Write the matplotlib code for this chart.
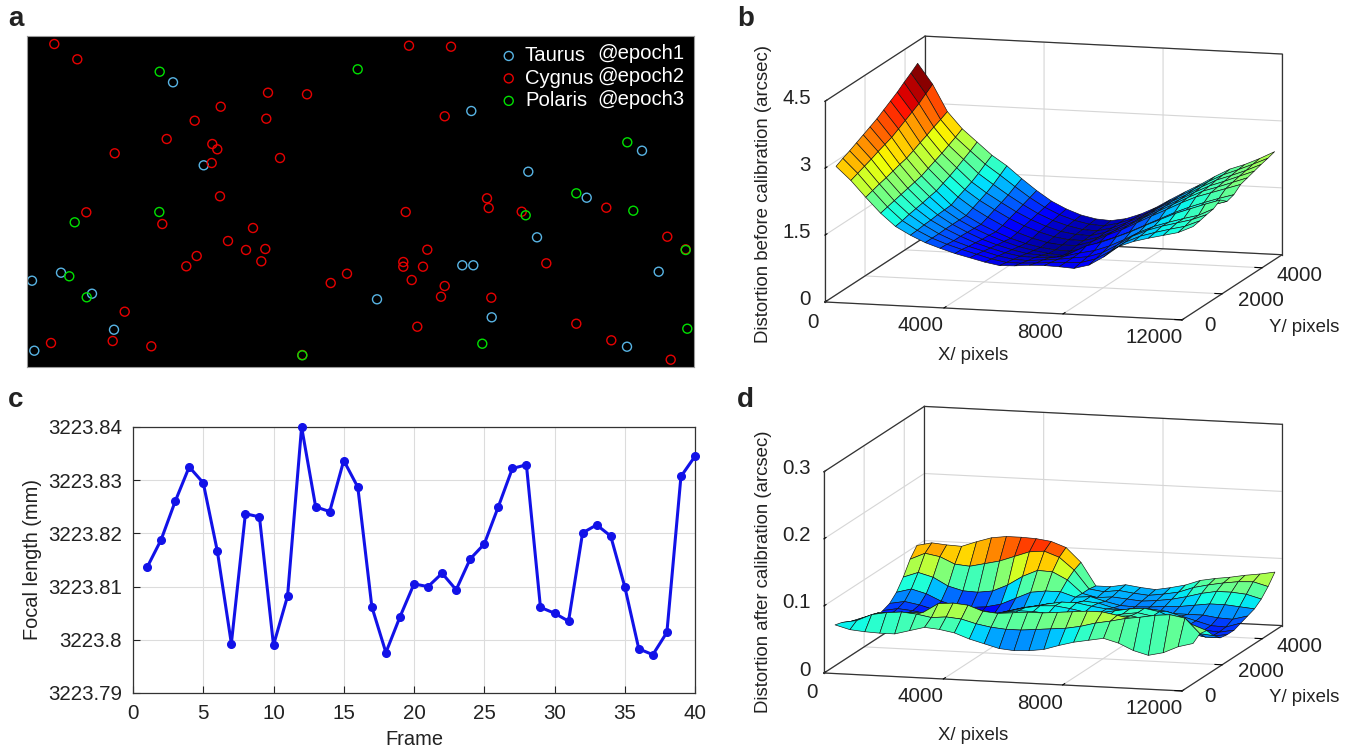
import numpy as np
import matplotlib
matplotlib.use('Agg')
import matplotlib.pyplot as plt
from mpl_toolkits.mplot3d import proj3d

plt.rcParams['font.family'] = ['Liberation Sans', 'DejaVu Sans']
plt.rcParams['grid.color'] = '#d6d6d6'
plt.rcParams['grid.linewidth'] = 0.8

W, H = 1364, 750
TXT = '#222222'

# panel a, star positions in image pixels
taurus_x = [173, 203.7, 32, 61, 92, 114, 34.3, 471.3, 642, 528.3, 586.7, 537, 462.3, 473.3, 658.7, 377, 491.7, 627]
taurus_y = [82.3, 165.3, 280.7, 272.7, 293.7, 329.7, 350.7, 111, 150.7, 171.7, 197.7, 237.3, 265.3, 265.3, 271.7, 299.3, 317.3, 346.7]
cygnus_x = [54.3, 77.3, 268, 307, 220.7, 194.7, 266.3, 166.7, 212.3, 217.3, 114.7, 280, 211.7, 220, 86.3, 162.3,
            253, 228, 246, 265.3, 196.7, 261.3, 186.3, 347, 330.7, 124.7, 112.7, 51, 151.3, 302.3, 409, 451, 444.7,
            487, 488.7, 405.7, 521.7, 606.3, 667.3, 685.7, 427.3, 403.3, 403.3, 423, 546.3, 411.7, 444.7, 441, 491.3,
            417.3, 576.3, 611.3, 670.7]
cygnus_y = [44, 59.3, 92.7, 94.3, 106.7, 120.7, 118.7, 139, 144, 149.3, 153.3, 158, 163, 196.3, 212.3, 224,
            228, 241, 250, 249, 256, 261.3, 266.3, 273.7, 283, 311.7, 341, 343, 346.3, 355, 45.7, 46.7, 116.3,
            198.3, 208, 212, 211.7, 207.7, 236.7, 249.3, 249.7, 262, 266.7, 266.7, 263.3, 280, 286, 296.7, 297.7,
            326.7, 323.7, 340.3, 359.7]
polaris_x = [159.7, 357.7, 74.7, 159.3, 69.3, 86.7, 302.3, 627.3, 576.3, 633.3, 525.7, 685.7, 687.3, 482.3]
polaris_y = [71.7, 69.3, 222.3, 212, 276.3, 297.3, 355.3, 142.3, 193.3, 210.7, 215.3, 250, 328.7, 343.7]
legend_names = ['Taurus', 'Cygnus', 'Polaris']
legend_epochs = ['@epoch1', '@epoch2', '@epoch3']

# panel c
frames = np.arange(1, 41)
focal = [3223.8136, 3223.8188, 3223.826, 3223.8325, 3223.8295, 3223.8167, 3223.7993, 3223.8237, 3223.8231, 3223.799,
         3223.8082, 3223.84, 3223.825, 3223.8241, 3223.8337, 3223.8287, 3223.8062, 3223.7976, 3223.8043, 3223.8105,
         3223.81, 3223.8125, 3223.8094, 3223.8152, 3223.818, 3223.825, 3223.8322, 3223.8329, 3223.8061, 3223.805,
         3223.8035, 3223.8201, 3223.8216, 3223.8195, 3223.81, 3223.7983, 3223.7972, 3223.8014, 3223.8307, 3223.8345]
focal_ticks = [3223.79, 3223.8, 3223.81, 3223.82, 3223.83, 3223.84]
focal_labels = ['3223.79', '3223.8', '3223.81', '3223.82', '3223.83', '3223.84']

# panels b, d: rows go from front (small Y) to back
grid_x = np.linspace(0, 12000, 25)
grid_y = np.linspace(550, 4630, 13)
before = [
    [2.88, 2.58, 2.22, 1.88, 1.60, 1.42, 1.27, 1.16, 1.06, .98, .90, .84, .85, .88, .89, .88, .86, .95, 1.15, 1.40, 1.53, 1.62, 1.70, 1.78, 1.93],
    [2.96, 2.64, 2.27, 1.92, 1.63, 1.43, 1.27, 1.15, 1.05, .96, .87, .81, .81, .83, .86, .88, .89, .99, 1.18, 1.40, 1.55, 1.65, 1.74, 1.82, 1.96],
    [3.03, 2.70, 2.32, 1.96, 1.67, 1.45, 1.27, 1.13, 1.02, .93, .84, .78, .77, .80, .83, .88, .92, 1.03, 1.22, 1.43, 1.58, 1.69, 1.78, 1.87, 2.00],
    [3.11, 2.76, 2.36, 2.00, 1.70, 1.46, 1.28, 1.13, 1.00, .90, .81, .75, .74, .75, .80, .89, .96, 1.08, 1.24, 1.42, 1.57, 1.68, 1.78, 1.87, 2.03],
    [3.19, 2.83, 2.41, 2.04, 1.73, 1.48, 1.28, 1.12, .98, .87, .78, .71, .69, .66, .78, .95, 1.05, 1.18, 1.32, 1.48, 1.63, 1.78, 1.90, 2.02, 2.13],
    [3.27, 2.89, 2.46, 2.08, 1.77, 1.49, 1.28, 1.11, .97, .85, .75, .68, .63, .60, .68, .82, .92, 1.05, 1.19, 1.35, 1.50, 1.65, 1.78, 1.90, 2.00],
    [3.35, 2.95, 2.50, 2.12, 1.80, 1.50, 1.28, 1.10, .95, .82, .72, .65, .61, .60, .68, .84, .96, 1.10, 1.26, 1.42, 1.58, 1.72, 1.84, 1.95, 2.05],
    [3.45, 3.04, 2.57, 2.19, 1.87, 1.58, 1.35, 1.16, .99, .85, .74, .66, .62, .63, .73, .89, 1.03, 1.20, 1.37, 1.53, 1.70, 1.85, 1.96, 2.07, 2.18],
    [3.55, 3.13, 2.65, 2.26, 1.94, 1.65, 1.42, 1.23, 1.05, .90, .78, .69, .64, .64, .73, .88, 1.03, 1.21, 1.38, 1.55, 1.72, 1.88, 1.99, 2.11, 2.23],
    [3.65, 3.22, 2.72, 2.33, 2.02, 1.72, 1.49, 1.29, 1.10, .94, .81, .71, .66, .65, .74, .88, 1.03, 1.21, 1.39, 1.56, 1.74, 1.90, 2.02, 2.15, 2.28],
    [3.77, 3.31, 2.80, 2.41, 2.11, 1.81, 1.58, 1.36, 1.16, .98, .84, .74, .67, .66, .74, .88, 1.03, 1.22, 1.40, 1.57, 1.76, 1.93, 2.05, 2.18, 2.33],
    [3.88, 3.43, 2.87, 2.49, 2.20, 1.92, 1.69, 1.45, 1.22, 1.02, .87, .76, .69, .67, .75, .87, 1.03, 1.22, 1.41, 1.59, 1.78, 1.95, 2.08, 2.22, 2.37],
    [4.00, 3.55, 2.95, 2.58, 2.30, 2.02, 1.80, 1.53, 1.28, 1.06, .90, .78, .71, .69, .75, .87, 1.03, 1.23, 1.42, 1.60, 1.80, 1.98, 2.10, 2.25, 2.42],
]
after = [
    [.061, .055, .053, .052, .052, .058, .064, .062, .058, .050, .044, .038, .036, .037, .040, .047, .053, .057, .061, .055, .045, .039, .044, .054, .060],
    [.058, .062, .072, .076, .078, .076, .072, .074, .072, .066, .062, .060, .060, .062, .064, .066, .070, .076, .080, .085, .088, .092, .094, .090, .068],
    [.052, .060, .068, .070, .070, .072, .086, .088, .086, .078, .076, .078, .080, .080, .082, .084, .086, .086, .082, .078, .074, .074, .076, .074, .066],
    [.045, .052, .058, .062, .063, .066, .071, .075, .074, .070, .066, .064, .064, .066, .068, .072, .074, .074, .072, .066, .062, .058, .056, .054, .052],
    [.038, .044, .048, .050, .050, .052, .056, .060, .062, .062, .060, .056, .054, .052, .052, .056, .061, .066, .068, .064, .056, .050, .046, .042, .042],
    [.035, .040, .043, .042, .041, .042, .045, .048, .052, .056, .060, .060, .058, .054, .052, .054, .058, .063, .066, .062, .054, .046, .040, .037, .040],
    [.033, .038, .040, .038, .036, .036, .038, .041, .046, .052, .058, .062, .063, .060, .056, .056, .060, .064, .066, .062, .053, .045, .038, .036, .040],
    [.036, .040, .038, .034, .032, .031, .032, .035, .042, .048, .053, .058, .062, .062, .058, .055, .055, .058, .058, .056, .050, .044, .038, .037, .044],
    [.040, .044, .040, .034, .030, .028, .029, .032, .038, .044, .048, .052, .052, .058, .056, .050, .046, .045, .045, .046, .046, .046, .043, .042, .048],
    [.050, .056, .050, .040, .034, .033, .035, .040, .050, .060, .063, .063, .056, .058, .052, .047, .046, .047, .049, .050, .053, .056, .056, .054, .052],
    [.066, .074, .068, .056, .050, .049, .052, .062, .076, .086, .085, .074, .055, .050, .052, .050, .048, .050, .053, .058, .064, .068, .068, .066, .060],
    [.086, .096, .092, .082, .080, .085, .090, .098, .106, .108, .100, .082, .055, .052, .055, .052, .050, .053, .057, .065, .070, .074, .077, .078, .072],
    [.100, .105, .103, .102, .110, .117, .120, .120, .119, .116, .108, .087, .053, .053, .057, .054, .052, .056, .061, .069, .073, .076, .080, .083, .087],
]
xy_xticks = [0, 4000, 8000, 12000]
xy_yticks = [0, 2000, 4000]
before_ticks = [0, 1.5, 3, 4.5]
before_labels = ['0', '1.5', '3', '4.5']
after_ticks = [0, 0.1, 0.2, 0.3]
after_labels = ['0', '0.1', '0.2', '0.3']


def fx(x):
    return x / W


def fy(y):
    return 1 - y / H


fig = plt.figure(figsize=(W / 100, H / 100), dpi=100)

# a: star map
ax_a = fig.add_axes([fx(27), fy(367), 667 / W, 331 / H], facecolor='black')
ring = dict(s=42, facecolors='none', linewidths=1.0)
h_t = ax_a.scatter(taurus_x, taurus_y, edgecolors='#58b4e4', zorder=2, **ring)
h_c = ax_a.scatter(cygnus_x, cygnus_y, edgecolors='#e60000', zorder=3, **ring)
h_p = ax_a.scatter(polaris_x, polaris_y, edgecolors='#00e000', zorder=4, **ring)
ax_a.set_xlim(27, 694)
ax_a.set_ylim(367, 36)
ax_a.set_xticks([])
ax_a.set_yticks([])
for s in ax_a.spines.values():
    s.set_color('#9a9a9a')
    s.set_linewidth(0.8)
leg = ax_a.legend([h_t, h_c, h_p], legend_names, loc='upper left', bbox_to_anchor=(0.666, 1.021), frameon=False,
                  fontsize=14.6, labelcolor='white', labelspacing=0.17, handletextpad=-0.2, borderpad=0.35)
for i, e in enumerate(legend_epochs):
    ax_a.text(597, 53.5 + 23 * i, e, color='white', fontsize=14.6, va='center', ha='left')

# c: focal length
ax_c = fig.add_axes([fx(133), fy(693), 562 / W, 266 / H])
ax_c.plot(frames, focal, '-o', color='#1212e8', lw=2.2, ms=5.5, clip_on=False, zorder=3)
ax_c.set_xlim(0, 40)
ax_c.set_ylim(3223.79, 3223.84)
ax_c.set_xticks(range(0, 41, 5))
ax_c.set_yticks(focal_ticks)
ax_c.set_yticklabels(focal_labels)
ax_c.grid(True, color='#dcdcdc', lw=0.8)
ax_c.set_axisbelow(True)
ax_c.tick_params(direction='in', labelsize=14.8, length=5, width=0.8, colors=TXT, pad=8)
ax_c.set_xlabel('Frame', fontsize=14.4, color=TXT, labelpad=5)
ax_c.set_ylabel('Focal length (mm)', fontsize=14.4, color=TXT, labelpad=4)
for s in ax_c.spines.values():
    s.set_linewidth(0.9)
    s.set_color('#333333')


def surface_panel(Z, zmax, zticks, zlabels, vmin, vmax, origin, right):
    ax = fig.add_axes([0.55, 0.3, 0.4, 0.5], projection='3d', proj_type='ortho', computed_zorder=False)
    ax.patch.set_alpha(0)
    X, Y = np.meshgrid(grid_x, grid_y)
    surf = ax.plot_surface(X, Y, np.array(Z), cmap='jet', vmin=vmin, vmax=vmax, rstride=1, cstride=1,
                           edgecolor='#101010', linewidth=0.45, antialiased=True, shade=False, zorder=2)
    surf.set_clip_on(False)
    ax.set_xlim(0, 12000)
    ax.set_ylim(0, 5000)
    ax.set_zlim(0, zmax)
    ax.set_xticks(xy_xticks)
    ax.set_yticks(xy_yticks)
    ax.set_zticks(zticks)
    ax.set_xticklabels([])
    ax.set_yticklabels([])
    ax.set_zticklabels([])
    ax.view_init(elev=10.4, azim=-74.5)
    aspect = (374, 378, 206)
    for axis in (ax.xaxis, ax.yaxis, ax.zaxis):
        axis.set_pane_color((1, 1, 1, 1))
        axis.pane.set_edgecolor('none')
        axis.line.set_color('#333333')
        axis.line.set_linewidth(0.9)
        axis._axinfo['tick']['inward_factor'] = 0
        axis._axinfo['tick']['outward_factor'] = 0.25
        axis._axinfo['tick']['color'] = '#333333'
    ax.zaxis.set_ticks_position('lower')
    # back edges of the box
    box = dict(color='#333333', lw=0.9, zorder=1, clip_on=False)
    ax.plot([0, 0], [0, 5000], [zmax, zmax], **box)
    ax.plot([0, 12000], [5000, 5000], [zmax, zmax], **box)
    ax.plot([12000, 12000], [5000, 5000], [0, zmax], **box)
    ax.plot([0, 0], [5000, 5000], [0, zmax], **box)
    ax.plot([0, 12000], [5000, 5000], [0, 0], **box)
    ax.plot([0, 0], [0, 5000], [0, 0], **box)

    # fit the box on the wanted pixels
    def pix(x, y, z):
        xs, ys, _ = proj3d.proj_transform(x, y, z, ax.get_proj())
        return ax.transData.transform((xs, ys))
    ax.set_box_aspect(aspect)
    fig.canvas.draw()
    a, b = pix(0, 0, 0), pix(12000, 0, 0)
    ax.set_box_aspect(aspect, zoom=(right[0] - origin[0]) / (b[0] - a[0]))
    fig.canvas.draw()
    a = pix(0, 0, 0)
    p = ax.get_position()
    ax.set_position([p.x0 + (origin[0] - a[0]) / W, p.y0 + ((H - origin[1]) - a[1]) / H, p.width, p.height])
    fig.canvas.draw()

    # tick labels sit at a pixel offset from the projected tick
    tk = dict(fontsize=14.8, color=TXT, va='center')
    for t, s in zip(zticks, zlabels):
        p = pix(0, 0, t)
        fig.text(fx(811), (p[1] + 3) / H, s, ha='right', **tk)
    for t, off in zip(xy_xticks, [(-12, 20), (-23, 18), (-23, 19), (-28, 18)]):
        p = pix(t, 0, 0)
        fig.text((p[0] + off[0]) / W, (p[1] - off[1]) / H, str(t), ha='center', **tk)
    for t, off in zip(xy_yticks, [(28, 6), (39, 7), (37, 8)]):
        p = pix(12000, t, 0)
        fig.text((p[0] + off[0]) / W, (p[1] - off[1]) / H, str(t), ha='center', **tk)
    return ax


ax_b = surface_panel(before, 4.5, before_ticks, before_labels, 0.55, 3.75, (825, 302), (1182, 320.6))
ax_d = surface_panel(after, 0.3, after_ticks, after_labels, 0.02, 0.128, (824, 673), (1182, 691))

# axis titles of the 3D panels
lab = dict(fontsize=13.4, color=TXT, ha='center', va='center')
fig.text(fx(764), fy(194), 'Distortion before calibration (arcsec)', rotation=90, **lab)
fig.text(fx(973), fy(356), 'X/ pixels', **lab)
fig.text(fx(1304), fy(328), 'Y/ pixels', **lab)
fig.text(fx(764), fy(572), 'Distortion after calibration (arcsec)', rotation=90, **lab)
fig.text(fx(973), fy(735), 'X/ pixels', **lab)
fig.text(fx(1304), fy(697), 'Y/ pixels', **lab)

for letter, x, y in [('a', 8, 26), ('b', 737, 26), ('c', 8, 407), ('d', 737, 407)]:
    fig.text(fx(x), fy(y), letter, fontsize=20, fontweight='bold', color=TXT, va='baseline')

fig.savefig('out.png', dpi=100)
